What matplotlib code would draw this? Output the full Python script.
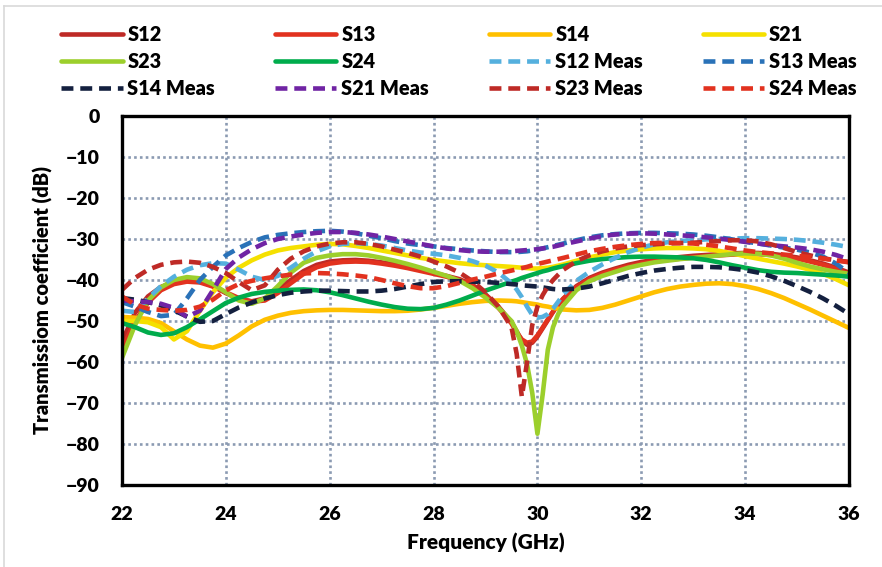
import matplotlib
matplotlib.use("Agg")
import matplotlib.pyplot as plt
from matplotlib.lines import Line2D

# Frequency points (GHz), denser around the 30 GHz notch
freq = [22.0, 22.25, 22.5, 22.75, 23.0, 23.25, 23.5, 23.75, 24.0, 24.25,
        24.5, 24.75, 25.0, 25.25, 25.5, 25.75, 26.0, 26.25, 26.5, 26.75,
        27.0, 27.25, 27.5, 27.75, 28.0, 28.25, 28.5, 28.75, 29.0, 29.25,
        29.5, 29.6, 29.7, 29.8, 29.9, 30.0, 30.1, 30.2, 30.3, 30.4,
        30.5, 30.75, 31.0, 31.25, 31.5, 31.75, 32.0, 32.25, 32.5,
        32.75, 33.0, 33.25, 33.5, 33.75, 34.0, 34.25, 34.5, 34.75,
        35.0, 35.25, 35.5, 35.75, 36.0]

# Simulated transmission (dB)
s12 = [-55.0, -48.0, -44.0, -41.7, -40.5, -40.0, -40.3, -41.5, -43.2, -44.6,
       -45.2, -44.5, -42.5, -40.0, -37.8, -36.3, -35.5, -35.2, -35.1, -35.3,
       -35.7, -36.2, -36.8, -37.5, -38.3, -39.0, -39.8, -41.2, -43.5, -46.5,
       -50.3, -52.5, -54.8, -55.8, -55.3, -53.8, -51.8, -49.8, -47.8, -46.0,
       -44.5, -41.5, -39.5, -38.2, -37.2, -36.3, -35.6, -35.1, -34.7,
       -34.4, -34.1, -33.9, -33.7, -33.5, -33.4, -33.4, -33.6, -34.0,
       -34.5, -35.2, -36.0, -37.0, -38.2]
s13 = [-57.0, -50.0, -45.5, -42.5, -41.0, -40.4, -40.6, -41.6, -43.0, -44.4,
       -45.3, -45.0, -43.2, -40.8, -38.5, -36.9, -36.0, -35.6, -35.5, -35.6,
       -36.0, -36.5, -37.1, -37.8, -38.5, -39.2, -40.0, -41.5, -43.8, -46.8,
       -50.6, -52.8, -54.5, -55.3, -55.0, -53.5, -51.6, -49.6, -47.7, -46.0,
       -44.6, -41.8, -39.8, -38.5, -37.5, -36.7, -36.0, -35.5, -35.1,
       -34.8, -34.5, -34.2, -34.0, -33.8, -33.7, -33.7, -33.9, -34.3,
       -34.8, -35.5, -36.3, -37.3, -38.6]
s14 = [-49.0, -49.2, -49.5, -50.5, -52.5, -54.5, -56.0, -56.5, -55.5, -53.5,
       -51.3, -49.7, -48.7, -48.0, -47.6, -47.4, -47.3, -47.3, -47.4, -47.5,
       -47.6, -47.6, -47.5, -47.2, -46.8, -46.3, -45.8, -45.4, -45.1, -45.0,
       -45.1, -45.2, -45.4, -45.6, -45.8, -46.0, -46.3, -46.5, -46.8, -47.0,
       -47.2, -47.4, -47.3, -46.8, -46.0, -45.0, -44.0, -43.0, -42.2,
       -41.6, -41.2, -40.9, -40.8, -41.0, -41.5, -42.2, -43.2, -44.4,
       -45.8, -47.2, -48.7, -50.2, -51.7]
s21 = [-50.0, -50.0, -50.3, -51.5, -54.5, -52.5, -47.5, -43.0, -39.4, -37.0,
       -35.2, -33.8, -32.8, -32.2, -31.8, -31.4, -31.2, -31.3, -31.7, -32.2,
       -32.8, -33.4, -34.0, -34.6, -35.1, -35.5, -35.9, -36.2, -36.4, -36.6,
       -36.8, -36.9, -37.0, -37.1, -37.2, -37.2, -37.1, -37.0, -36.8, -36.5,
       -36.2, -35.3, -34.5, -33.8, -33.2, -32.8, -32.5, -32.3, -32.2,
       -32.2, -32.3, -32.5, -32.9, -33.5, -34.2, -34.8, -35.4, -36.0,
       -36.7, -37.5, -38.5, -39.8, -41.3]
s23 = [-59.0, -51.0, -45.0, -41.8, -40.0, -39.3, -39.6, -41.0, -43.0, -45.0,
       -45.8, -44.5, -41.5, -38.2, -35.8, -34.6, -34.0, -33.7, -33.7, -34.0,
       -34.6, -35.3, -36.1, -37.0, -38.0, -39.0, -40.2, -42.0, -44.3, -46.8,
       -50.0, -52.5, -56.0, -60.5, -67.5, -77.5, -68.0, -57.0, -51.5, -48.3,
       -46.2, -42.5, -40.3, -39.0, -38.0, -37.0, -36.3, -35.7, -35.3,
       -34.9, -34.6, -34.3, -34.0, -33.7, -33.5, -33.6, -34.0, -34.8,
       -35.8, -36.7, -37.4, -38.0, -38.5]
s24 = [-50.5, -51.5, -52.8, -53.4, -53.0, -51.5, -49.6, -47.6, -45.6, -44.3,
       -43.4, -42.9, -42.6, -42.4, -42.3, -42.5, -43.0, -43.7, -44.5, -45.3,
       -46.0, -46.6, -47.0, -47.1, -46.8, -46.0, -45.0, -43.8, -42.6, -41.5,
       -40.4, -40.0, -39.5, -39.1, -38.7, -38.3, -37.9, -37.6, -37.2, -36.9,
       -36.6, -35.9, -35.3, -34.9, -34.6, -34.4, -34.3, -34.3, -34.4,
       -34.5, -34.7, -35.1, -35.7, -36.4, -37.0, -37.6, -38.0, -38.2,
       -38.3, -38.5, -38.7, -38.9, -39.2]

# Measured transmission (dB)
s12_meas = [-47.5, -47.8, -44.5, -41.5, -39.2, -37.5, -36.4, -35.9, -36.0, -37.5,
            -39.2, -40.0, -39.0, -37.0, -34.8, -33.0, -31.8, -31.2, -31.0, -31.2,
            -31.6, -32.2, -32.8, -33.3, -33.6, -34.0, -34.6, -35.4, -36.5, -38.2,
            -40.8, -42.3, -44.2, -46.5, -48.5, -49.2, -49.0, -48.3, -47.0, -45.3,
            -43.5, -40.2, -38.0, -36.2, -34.6, -33.2, -32.1, -31.3, -30.8,
            -30.5, -30.3, -30.1, -30.0, -29.9, -29.8, -29.8, -29.9, -30.0,
            -30.2, -30.5, -30.9, -31.4, -32.0]
s13_meas = [-45.4, -46.5, -47.8, -48.8, -48.5, -44.5, -40.0, -36.8, -34.0, -32.2,
            -30.7, -29.6, -29.0, -28.6, -28.3, -28.1, -28.0, -28.2, -28.6, -29.2,
            -29.8, -30.5, -31.1, -31.5, -31.8, -32.2, -32.5, -32.8, -33.0, -33.2,
            -33.2, -33.2, -33.1, -33.0, -32.8, -32.6, -32.3, -32.0, -31.7, -31.4,
            -31.1, -30.3, -29.6, -29.1, -28.8, -28.6, -28.5, -28.5, -28.6,
            -28.7, -28.9, -29.2, -29.6, -30.1, -30.6, -31.1, -31.6, -32.1,
            -32.6, -33.3, -34.3, -36.0, -38.3]
s14_meas = [-44.4, -44.8, -45.4, -46.2, -47.4, -48.9, -50.2, -50.0, -48.3, -46.7,
            -45.5, -44.5, -43.7, -43.1, -42.8, -42.6, -42.6, -42.7, -42.8, -42.8,
            -42.6, -42.2, -41.6, -41.0, -40.5, -40.3, -40.3, -40.4, -40.5, -40.7,
            -41.0, -41.1, -41.3, -41.4, -41.5, -41.6, -41.8, -42.0, -42.2, -42.3,
            -42.3, -42.1, -41.6, -40.8, -39.9, -39.0, -38.3, -37.7, -37.3,
            -37.0, -36.8, -36.8, -36.9, -37.2, -37.6, -38.2, -39.1, -40.2,
            -41.5, -42.9, -44.5, -46.3, -48.3]
s21_meas = [-45.0, -45.2, -45.4, -45.8, -46.8, -49.0, -47.5, -42.5, -37.3, -34.5,
            -32.5, -31.0, -30.0, -29.4, -28.9, -28.5, -28.3, -28.3, -28.5, -28.9,
            -29.4, -30.0, -30.6, -31.2, -31.8, -32.3, -32.7, -33.0, -33.1, -33.1,
            -33.0, -32.9, -32.8, -32.7, -32.6, -32.5, -32.3, -32.1, -31.9, -31.6,
            -31.3, -30.6, -29.9, -29.3, -28.9, -28.7, -28.6, -28.7, -28.9,
            -29.1, -29.3, -29.6, -29.9, -30.3, -30.7, -31.1, -31.5, -31.8,
            -32.1, -32.5, -33.1, -33.9, -35.0]
s23_meas = [-42.4, -39.5, -37.5, -36.3, -35.7, -35.5, -35.8, -36.8, -38.3, -40.5,
            -42.5, -41.3, -37.5, -34.8, -33.0, -31.8, -31.1, -30.8, -30.8, -31.2,
            -31.8, -32.6, -33.4, -34.3, -35.5, -36.7, -38.2, -40.3, -43.0, -46.5,
            -51.5, -58.0, -68.5, -60.0, -51.0, -46.5, -43.7, -41.6, -40.0, -38.7,
            -37.5, -35.4, -34.0, -33.0, -32.3, -31.8, -31.5, -31.3, -31.1,
            -31.0, -30.9, -30.7, -30.5, -30.3, -30.3, -30.6, -31.3, -32.2,
            -33.2, -34.0, -34.7, -35.2, -35.6]
s24_meas = [-44.0, -46.0, -47.0, -47.3, -47.5, -47.3, -46.5, -44.8, -42.5, -41.0,
            -40.2, -39.6, -39.1, -38.7, -38.4, -38.3, -38.4, -38.6, -38.9, -39.3,
            -40.0, -40.8, -41.5, -42.0, -42.0, -41.5, -40.7, -39.9, -39.2, -38.4,
            -37.7, -37.4, -37.1, -36.8, -36.4, -36.1, -35.8, -35.5, -35.2, -34.9,
            -34.6, -33.8, -33.0, -32.4, -31.9, -31.5, -31.2, -31.0, -30.9,
            -31.0, -31.1, -31.4, -31.8, -32.3, -32.8, -33.2, -33.5, -33.8,
            -34.1, -34.4, -34.8, -35.2, -35.7]

series = [
    ("S12", s12, "#BE2A26", "solid"),
    ("S13", s13, "#E2321F", "solid"),
    ("S14", s14, "#FFC000", "solid"),
    ("S21", s21, "#F5E000", "solid"),
    ("S23", s23, "#9CCF2C", "solid"),
    ("S24", s24, "#00AC4C", "solid"),
    ("S12 Meas", s12_meas, "#55B0DE", "dash"),
    ("S13 Meas", s13_meas, "#2A72B8", "dash"),
    ("S14 Meas", s14_meas, "#14203F", "dash"),
    ("S21 Meas", s21_meas, "#7024A4", "dash"),
    ("S23 Meas", s23_meas, "#BE2A26", "dash"),
    ("S24 Meas", s24_meas, "#E2321F", "dash"),
]

plt.rcParams["font.family"] = ["Lato", "DejaVu Sans"]
plt.rcParams["font.weight"] = "heavy"
plt.rcParams["axes.labelweight"] = "heavy"

fig = plt.figure(figsize=(8.82, 5.67), dpi=100)
ax = fig.add_axes([122 / 882, 1 - 485 / 567, 727 / 882, 369 / 567])

handles = []
for label, values, color, style in series:
    if style == "solid":
        line, = ax.plot(freq, values, color=color, lw=3.3, label=label,
                        solid_joinstyle="round", solid_capstyle="round")
    else:
        line, = ax.plot(freq, values, color=color, lw=3.3, label=label,
                        linestyle=(0, (2.6, 1.5)), dash_joinstyle="round",
                        dash_capstyle="butt")
    handles.append(line)

ax.set_xlim(22, 36)
ax.set_ylim(-90, 0)
ax.set_xticks(range(22, 37, 2))
ax.set_yticks(range(-90, 1, 10))
ax.tick_params(length=0, labelsize=14)
ax.tick_params(axis="x", pad=15)
ax.tick_params(axis="y", pad=16)
ax.grid(True, color="#8B9AB2", linestyle=(0, (1, 1.2)), linewidth=1.9)
ax.set_axisbelow(True)
for sp in ax.spines.values():
    sp.set_linewidth(2.4)
    sp.set_color("black")

ax.set_xlabel("Frequency (GHz)", fontsize=15, labelpad=7)
ax.set_ylabel("Transmissiom coefficient (dB)", fontsize=14.5, labelpad=9)

# legend laid out row by row across four columns
order = [0, 4, 8, 1, 5, 9, 2, 6, 10, 3, 7, 11]
fig.legend([handles[i] for i in order], [series[i][0] for i in order],
           ncol=4, loc="upper left", bbox_to_anchor=(51 / 882, 1 - 15 / 567),
           frameon=False, fontsize=14.3, handlelength=3.1, handletextpad=0.25,
           columnspacing=3.0, labelspacing=0.4, borderpad=0)

# thin chart-area border on the left and top
fig.add_artist(Line2D([4 / 882, 4 / 882], [0, 1 - 6 / 567], transform=fig.transFigure,
                      color="#D9D9D9", lw=1.2))
fig.add_artist(Line2D([4 / 882, 1], [1 - 6 / 567, 1 - 6 / 567], transform=fig.transFigure,
                      color="#D9D9D9", lw=1.2))

fig.savefig("out.png", dpi=100)
